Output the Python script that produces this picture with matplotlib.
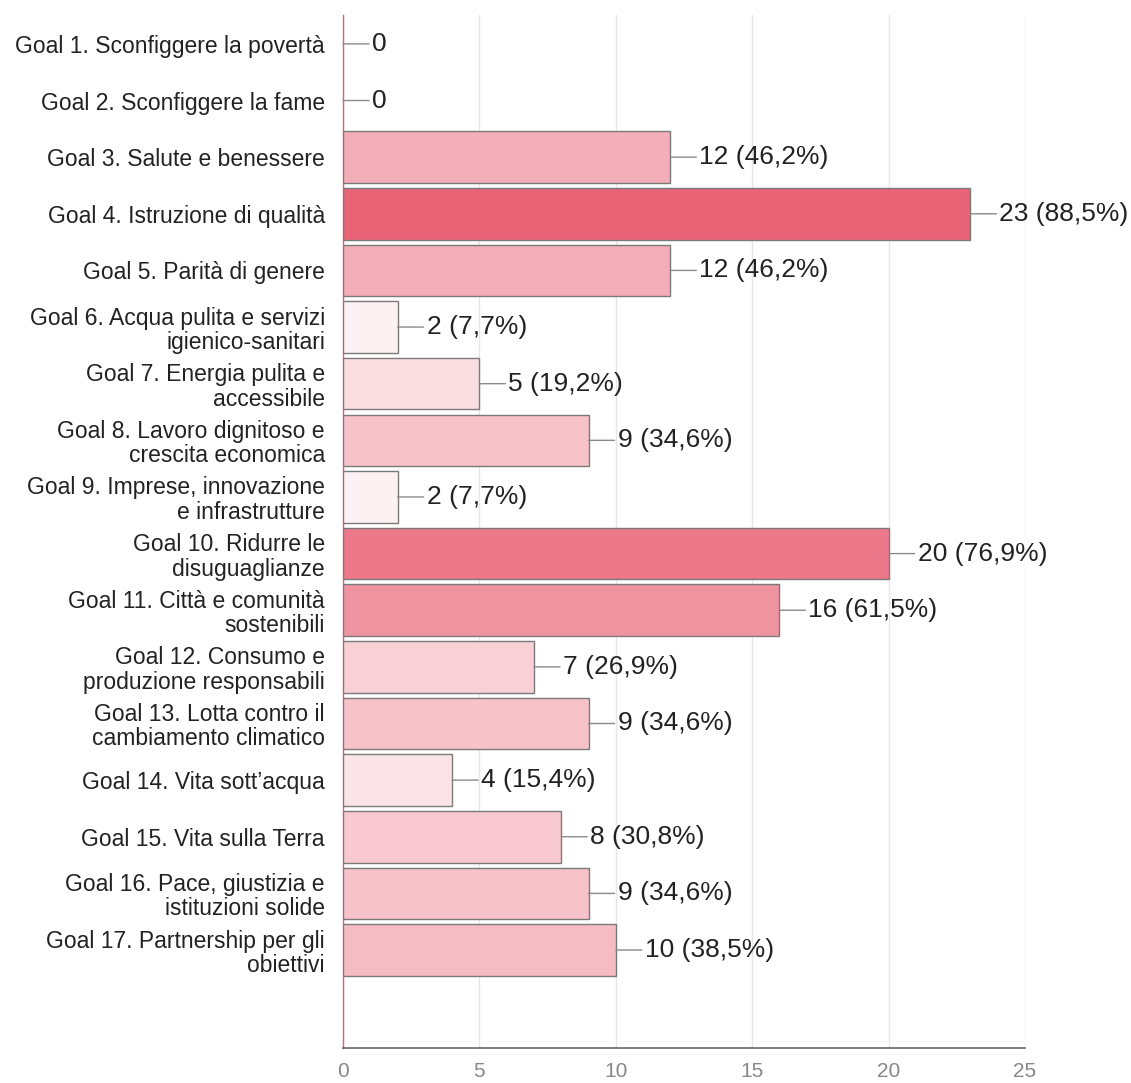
import matplotlib
matplotlib.use("Agg")
import matplotlib.pyplot as plt
from matplotlib.colors import LinearSegmentedColormap

plt.rcParams['font.family'] = ['Liberation Sans', 'DejaVu Sans']

categories = [
    "Goal 1. Sconfiggere la povertà",
    "Goal 2. Sconfiggere la fame",
    "Goal 3. Salute e benessere",
    "Goal 4. Istruzione di qualità",
    "Goal 5. Parità di genere",
    "Goal 6. Acqua pulita e servizi\nigienico-sanitari",
    "Goal 7. Energia pulita e\naccessibile",
    "Goal 8. Lavoro dignitoso e\ncrescita economica",
    "Goal 9. Imprese, innovazione\ne infrastrutture",
    "Goal 10. Ridurre le\ndisuguaglianze",
    "Goal 11. Città e comunità\nsostenibili",
    "Goal 12. Consumo e\nproduzione responsabili",
    "Goal 13. Lotta contro il\ncambiamento climatico",
    "Goal 14. Vita sott’acqua",
    "Goal 15. Vita sulla Terra",
    "Goal 16. Pace, giustizia e\nistituzioni solide",
    "Goal 17. Partnership per gli\nobiettivi",
]
counts = [0, 0, 12, 23, 12, 2, 5, 9, 2, 20, 16, 7, 9, 4, 8, 9, 10]
value_labels = ["0", "0", "12 (46,2%)", "23 (88,5%)", "12 (46,2%)", "2 (7,7%)",
                "5 (19,2%)", "9 (34,6%)", "2 (7,7%)", "20 (76,9%)", "16 (61,5%)",
                "7 (26,9%)", "9 (34,6%)", "4 (15,4%)", "8 (30,8%)", "9 (34,6%)",
                "10 (38,5%)"]
xticks = [0, 5, 10, 15, 20, 25]

fig = plt.figure(figsize=(11.31, 10.83), dpi=100)
ax = fig.add_axes([343/1131, 1 - 1048/1083, (1025-343)/1131, (1048-15)/1083])

cmap = LinearSegmentedColormap.from_list("r", ["#FFFFFF", "#EA6478"])
vmax = max(counts)
ypos = list(range(len(categories)))
for y, c in zip(ypos, counts):
    if c > 0:
        ax.barh(y, c, height=0.91, color=cmap(c / vmax), edgecolor="#7a7a7a",
                linewidth=1.0, zorder=3)

for y, c, lab in zip(ypos, counts, value_labels):
    ax.annotate("", xy=(c, y), xytext=(26, 0), textcoords='offset pixels',
                arrowprops=dict(arrowstyle='-', color='#8a8a8a', lw=1.0,
                                shrinkA=0, shrinkB=0), zorder=4)
    ax.annotate(lab, xy=(c, y), xytext=(29, 0), textcoords='offset pixels',
                ha='left', va='center', fontsize=19, color='#222222', zorder=5)

ax.set_yticks(ypos)
ax.set_yticklabels(categories, fontsize=16.5, color='#222222', linespacing=1.08)
ax.tick_params(axis='y', length=0, pad=13)
ax.set_ylim(17.73, -0.51)

ax.set_xlim(0, 25)
ax.set_xticks(xticks)
ax.set_xticklabels([str(t) for t in xticks], fontsize=15, color='#888888')
ax.tick_params(axis='x', length=0, pad=10)
ax.grid(axis='x', color='#e6e6e6', linewidth=1.0, zorder=0)
ax.set_axisbelow(True)

for s in ['top', 'right']:
    ax.spines[s].set_visible(False)
ax.spines['left'].set_color('#E06070')
ax.spines['left'].set_linewidth(1.0)
ax.spines['bottom'].set_color('#666666')
ax.spines['bottom'].set_linewidth(1.2)

fig.savefig("out.png", dpi=100)
